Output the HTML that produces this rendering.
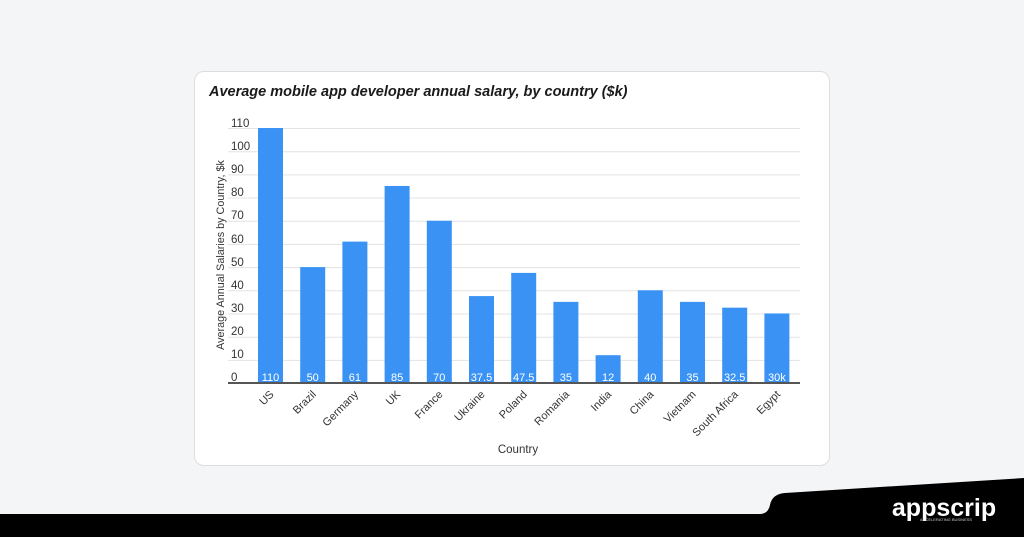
<!DOCTYPE html><html><head><style>
body{margin:0;width:1024px;height:537px;background:#f4f5f7;position:relative;overflow:hidden;font-family:"Liberation Sans",sans-serif}
.card{position:absolute;left:194px;top:71px;width:634px;height:393px;background:#fff;border:1px solid #dcdde0;border-radius:10px}
</style></head><body>
<div class="card"></div>
<svg width="1024" height="537" style="position:absolute;left:0;top:0">
<text x="209" y="96" font-size="14.5" font-weight="bold" font-style="italic" fill="#1a1a1a">Average mobile app developer annual salary, by country ($k)</text>
<g stroke="#e3e3e3" stroke-width="1">
<line x1="228" x2="800" y1="128.5" y2="128.5"/><line x1="228" x2="800" y1="151.7" y2="151.7"/><line x1="228" x2="800" y1="174.9" y2="174.9"/><line x1="228" x2="800" y1="198" y2="198"/><line x1="228" x2="800" y1="221.2" y2="221.2"/><line x1="228" x2="800" y1="244.4" y2="244.4"/><line x1="228" x2="800" y1="267.6" y2="267.6"/><line x1="228" x2="800" y1="290.8" y2="290.8"/><line x1="228" x2="800" y1="314" y2="314"/><line x1="228" x2="800" y1="337.2" y2="337.2"/><line x1="228" x2="800" y1="360.4" y2="360.4"/>
</g>
<g font-size="11.5" fill="#333">
<text x="231" y="127">110</text><text x="231" y="150">100</text><text x="231" y="173">90</text><text x="231" y="196">80</text><text x="231" y="219">70</text><text x="231" y="243">60</text><text x="231" y="266">50</text><text x="231" y="289">40</text><text x="231" y="312">30</text><text x="231" y="335">20</text><text x="231" y="358">10</text><text x="231" y="381">0</text>
</g>
<text transform="translate(224,255) rotate(-90)" text-anchor="middle" font-size="10.8" fill="#333">Average Annual Salaries by Country, $k</text>
<g fill="#3a93f4" id="bars"></g>
<line x1="228" x2="800" y1="383" y2="383" stroke="#555" stroke-width="2"/>
<text x="518" y="453" text-anchor="middle" font-size="11.5" fill="#333">Country</text>
<g id="lbl"></g>
<path d="M0 514 L760 514 Q768 514 770 505 Q772 494 785 493 L1024 478 L1024 537 L0 537Z" fill="#000"/>
<text x="944" y="516" text-anchor="middle" font-size="25" font-weight="bold" fill="#fff">appscrip</text>
<text x="946" y="521" text-anchor="middle" font-size="4" fill="#ccc">ACCELERATING BUSINESS</text>
</svg>
<script>
var d=[["US",110,"110"],["Brazil",50,"50"],["Germany",61,"61"],["UK",85,"85"],["France",70,"70"],["Ukraine",37.5,"37.5"],["Poland",47.5,"47.5"],["Romania",35,"35"],["India",12,"12"],["China",40,"40"],["Vietnam",35,"35"],["South Africa",32.5,"32.5"],["Egypt",30,"30k"]];
var ns="http://www.w3.org/2000/svg",b=document.getElementById("bars"),l=document.getElementById("lbl");
d.forEach(function(e,i){var cx=270.5+i*42.2,h=e[1]*2.318,r=document.createElementNS(ns,"rect");
r.setAttribute("x",cx-12.5);r.setAttribute("y",383-h);r.setAttribute("width",25);r.setAttribute("height",h);b.appendChild(r);
var t=document.createElementNS(ns,"text");t.setAttribute("x",cx);t.setAttribute("y",381);t.setAttribute("text-anchor","middle");t.setAttribute("font-size","11");t.setAttribute("fill","#fff");t.textContent=e[2];l.appendChild(t);
var u=document.createElementNS(ns,"text");u.setAttribute("transform","translate("+(cx+4)+",395) rotate(-45)");u.setAttribute("text-anchor","end");u.setAttribute("font-size","11");u.setAttribute("fill","#333");u.textContent=e[0];l.appendChild(u);});
</script>
</body></html>
